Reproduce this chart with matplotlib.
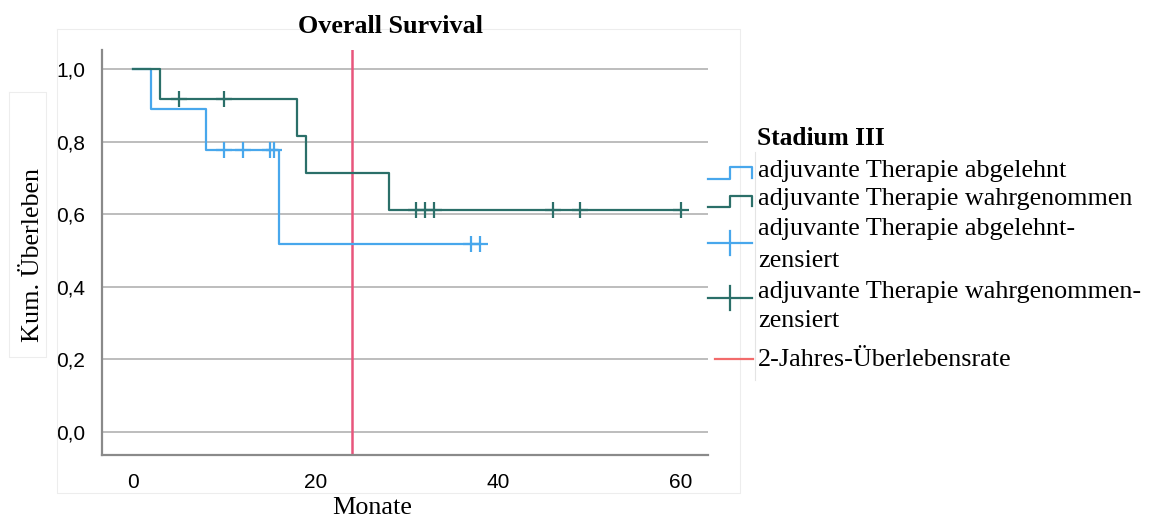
import matplotlib
matplotlib.use("Agg")
import matplotlib.pyplot as plt
from matplotlib.lines import Line2D

# Kaplan-Meier steps
rej_times = [0, 2, 8, 16, 38]
rej_surv = [1.0, 0.889, 0.778, 0.519, 0.519]
rej_cens_t = [10, 12, 15, 15.4, 37, 38]
rej_cens_s = [0.778, 0.778, 0.778, 0.778, 0.519, 0.519]

acc_times = [0, 3, 18, 19, 28, 60]
acc_surv = [1.0, 0.917, 0.815, 0.713, 0.611, 0.611]
acc_cens_t = [5, 10, 31, 32, 33, 46, 49, 60]
acc_cens_s = [0.917, 0.917, 0.611, 0.611, 0.611, 0.611, 0.611, 0.611]

two_year = 24
yticks = [0.0, 0.2, 0.4, 0.6, 0.8, 1.0]
ytick_labels = ["0,0", "0,2", "0,4", "0,6", "0,8", "1,0"]
xticks = [0, 20, 40, 60]

legend_title = "Stadium III"
legend_lines = ["adjuvante Therapie abgelehnt",
                "adjuvante Therapie wahrgenommen",
                "adjuvante Therapie abgelehnt-",
                "zensiert",
                "adjuvante Therapie wahrgenommen-",
                "zensiert",
                "2-Jahres-Überlebensrate"]

blue = "#48a7ec"
green = "#2b6f69"
red = "#e8557c"
serif = "Liberation Serif"
sans = "Liberation Sans"

W, H = 1151, 519
fig = plt.figure(figsize=(W / 100, H / 100), dpi=100)

def fx(px):
    return px / W

def fy(py):
    return 1 - py / H

# faint screenshot frames
for xs, ys in [([9, 46, 46, 9, 9], [92, 92, 357, 357, 92]),
               ([57, 740, 740, 57, 57], [29, 29, 493, 493, 29])]:
    fig.add_artist(Line2D([fx(v) for v in xs], [fy(v) for v in ys],
                          color="#ededed", lw=0.8))

ax = fig.add_axes([fx(102), fy(455), fx(708) - fx(102), fy(50) - fy(455)])
ax.set_xlim(-3.4, 63)
ax.set_ylim(-0.063, 1.052)

ax.step(rej_times, rej_surv, where="post", color=blue, lw=1.6, zorder=3)
ax.step(acc_times, acc_surv, where="post", color=green, lw=1.6, zorder=3)
ax.plot(rej_cens_t, rej_cens_s, ls="none", marker="+", ms=11, mew=1.6, color=blue, zorder=4)
ax.plot(acc_cens_t, acc_cens_s, ls="none", marker="+", ms=11, mew=1.6, color=green, zorder=4)
ax.axvline(two_year, color=red, lw=1.8, zorder=2)

ax.set_yticks(yticks)
ax.set_yticklabels(ytick_labels, fontfamily=sans, fontsize=15)
ax.set_xticks(xticks)
ax.set_xticklabels([str(v) for v in xticks], fontfamily=sans, fontsize=15)
ax.tick_params(length=0)
ax.tick_params(axis="x", pad=13)
ax.tick_params(axis="y", pad=12)
ax.grid(axis="y", color="#bdbdbd", lw=1.4)
ax.set_axisbelow(True)
for s in ["top", "right"]:
    ax.spines[s].set_visible(False)
for s in ["left", "bottom"]:
    ax.spines[s].set_color("#8a8a8a")
    ax.spines[s].set_linewidth(1.6)

fig.text(fx(390), fy(33), "Overall Survival", ha="center", va="baseline",
         fontfamily=serif, fontweight="bold", fontsize=18.8)
fig.text(fx(33), fy(255), "Kum. Überleben", rotation=90, ha="center", va="center",
         fontfamily=serif, fontsize=18.8)
fig.text(fx(372), fy(508), "Monate", ha="center", va="center",
         fontfamily=serif, fontsize=18.8)

# legend drawn by hand
fig.text(fx(757), fy(145), legend_title, ha="left", va="baseline",
         fontfamily=serif, fontweight="bold", fontsize=18.3)
fig.add_artist(Line2D([fx(755), fx(755)], [fy(152), fy(380)], color="#e4e4e4", lw=0.8))
for col, (lo, hi) in [(blue, (179, 167)), (green, (207, 196))]:
    fig.add_artist(Line2D([fx(708), fx(730), fx(730), fx(752), fx(752)],
                          [fy(lo), fy(lo), fy(hi), fy(hi), fy(lo - 1)], color=col, lw=1.6))
for col, yc in [(blue, 243), (green, 298)]:
    fig.add_artist(Line2D([fx(708), fx(752)], [fy(yc), fy(yc)], color=col, lw=1.6))
    fig.add_artist(Line2D([fx(730), fx(730)], [fy(yc - 12), fy(yc + 12)], color=col, lw=1.6))
fig.add_artist(Line2D([fx(715), fx(753)], [fy(359), fy(359)], color="#f26b6b", lw=1.6))

baselines = [177, 205, 235, 267, 298, 327, 366]
for t, yv in zip(legend_lines, baselines):
    fig.text(fx(758), fy(yv), t, ha="left", va="baseline", fontfamily=serif,
             fontsize=18.8)

fig.savefig("out.png", dpi=100)
